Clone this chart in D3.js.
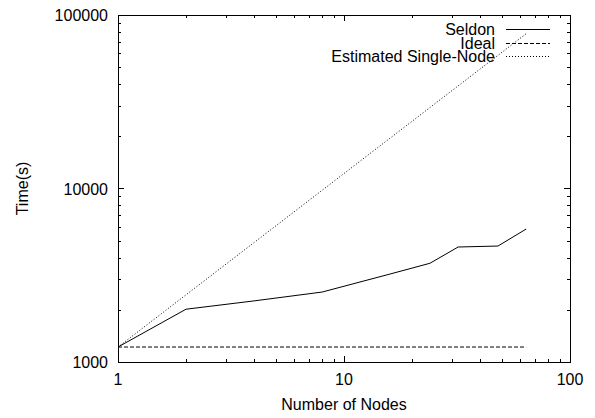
<!DOCTYPE html>
<html>
<head>
<meta charset="utf-8">
<script src="https://cdn.jsdelivr.net/npm/d3@7"></script>
<style>
body { margin: 0; background: #fff; }
text { font-family: "Liberation Sans", Arial, sans-serif; font-size: 16px; fill: #000; }
</style>
</head>
<body>
<script>
var width = 595;
var height = 418;
var margin = {left: 118, right: 25, top: 15, bottom: 56};

var nodes = [1, 2, 4, 8, 16, 24, 32, 48, 64];
var seldon = [1220, 2015, 2250, 2530, 3215, 3707, 4600, 4660, 5840];
var ideal = [1220, 1220, 1220, 1220, 1220, 1220, 1220, 1220, 1220];
var estimated = [1220, 2440, 4880, 9760, 19520, 29280, 39040, 58560, 78080];

var seriesNames = ["Seldon", "Ideal", "Estimated Single-Node"];
var seriesDash = ["none", "4,2", "1,2"];
var xTicks = [1, 10, 100];
var yTicks = [1000, 10000, 100000];

var svg = d3.select("body").append("svg")
    .attr("width", width)
    .attr("height", height);

var x = d3.scaleLog()
    .domain([1, 100])
    .range([margin.left, width - margin.right]);
var y = d3.scaleLog()
    .domain([1000, 100000])
    .range([height - margin.bottom, margin.top]);

var x0 = x.range()[0], x1 = x.range()[1];
var y0 = y.range()[0], y1 = y.range()[1];

// minor ticks
var xMinor = [];
var yMinor = [];
for (var d = 1; d < 100; d *= 10) {
    for (var k = 2; k < 10; k++) xMinor.push(d * k);
}
for (var d = 1000; d < 100000; d *= 10) {
    for (var k = 2; k < 10; k++) yMinor.push(d * k);
}

var ticks = svg.append("g").attr("stroke", "#000").attr("stroke-width", 1);

xMinor.forEach(function(v) {
    var px = Math.round(x(v)) + 0.5;
    ticks.append("line").attr("x1", px).attr("x2", px).attr("y1", y0).attr("y2", y0 - 3);
    ticks.append("line").attr("x1", px).attr("x2", px).attr("y1", y1).attr("y2", y1 + 3);
});
xTicks.forEach(function(v) {
    var px = Math.round(x(v)) + 0.5;
    ticks.append("line").attr("x1", px).attr("x2", px).attr("y1", y0).attr("y2", y0 - 6);
    ticks.append("line").attr("x1", px).attr("x2", px).attr("y1", y1).attr("y2", y1 + 6);
});
yMinor.forEach(function(v) {
    var py = Math.round(y(v)) + 0.5;
    ticks.append("line").attr("x1", x0).attr("x2", x0 + 3).attr("y1", py).attr("y2", py);
    ticks.append("line").attr("x1", x1).attr("x2", x1 - 3).attr("y1", py).attr("y2", py);
});
yTicks.forEach(function(v) {
    var py = Math.round(y(v)) + 0.5;
    ticks.append("line").attr("x1", x0).attr("x2", x0 + 6).attr("y1", py).attr("y2", py);
    ticks.append("line").attr("x1", x1).attr("x2", x1 - 6).attr("y1", py).attr("y2", py);
});

// tick labels
svg.selectAll(".xlab").data(xTicks).enter().append("text")
    .attr("x", function(v) { return x(v); })
    .attr("y", y0 + 23)
    .attr("text-anchor", "middle")
    .text(function(v) { return v; });
svg.selectAll(".ylab").data(yTicks).enter().append("text")
    .attr("x", x0 - 10)
    .attr("y", function(v) { return y(v) + 6; })
    .attr("text-anchor", "end")
    .text(function(v) { return v; });

// axis titles
svg.append("text")
    .attr("x", (x0 + x1) / 2)
    .attr("y", 410)
    .attr("text-anchor", "middle")
    .text("Number of Nodes");
svg.append("text")
    .attr("transform", "translate(28," + ((y0 + y1) / 2) + ") rotate(-90)")
    .attr("text-anchor", "middle")
    .text("Time(s)");

// lines
var line = d3.line()
    .x(function(d) { return x(d[0]); })
    .y(function(d) { return y(d[1]); });

var allSeries = [seldon, ideal, estimated];
allSeries.forEach(function(vals, i) {
    svg.append("path")
        .datum(nodes.map(function(n, j) { return [n, vals[j]]; }))
        .attr("d", line)
        .attr("fill", "none")
        .attr("stroke", "#000")
        .attr("stroke-width", 1)
        .attr("stroke-dasharray", seriesDash[i]);
});

// legend (rows overlap slightly, as in the original)
seriesNames.forEach(function(name, i) {
    var ly = 29 + i * 13.5;
    svg.append("text")
        .attr("x", 495)
        .attr("y", ly + 6)
        .attr("text-anchor", "end")
        .text(name);
    svg.append("line")
        .attr("x1", 506).attr("x2", 550)
        .attr("y1", Math.round(ly) + 0.5).attr("y2", Math.round(ly) + 0.5)
        .attr("stroke", "#000")
        .attr("stroke-width", 1)
        .attr("stroke-dasharray", seriesDash[i]);
});

// frame
svg.append("rect")
    .attr("x", x0 + 0.5)
    .attr("y", y1 + 0.5)
    .attr("width", x1 - x0)
    .attr("height", y0 - y1)
    .attr("fill", "none")
    .attr("stroke", "#000")
    .attr("stroke-width", 1);
</script>
</body>
</html>
